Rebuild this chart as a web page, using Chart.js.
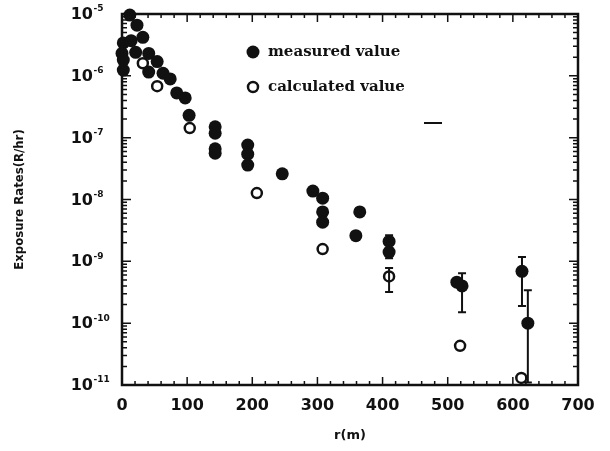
<!DOCTYPE html>
<html lang="en">
<head>
  <meta charset="UTF-8" />
  <title>Exposure rates vs distance</title>
  <script src="https://cdn.jsdelivr.net/npm/chart.js"></script>
  <style>
    html, body { margin: 0; padding: 0; background: #fff; }
    #wrap { width: 610px; height: 451px; }
  </style>
</head>
<body>
  <div id="wrap"><canvas id="rateChart" width="610" height="451"></canvas></div>

  <script>
    // distance r (m) and exposure rate (R/hr)
    const measuredR = [12, 23, 2, 14, 32, 0, 21, 41, 2, 54, 2, 41, 63, 74, 84, 97, 103,
      143, 143, 143, 143, 193, 193, 193, 246, 293, 308, 308, 308, 365, 359,
      410, 410, 514, 522, 614, 623];
    const measuredRate = [9.6e-6, 6.6e-6, 3.4e-6, 3.7e-6, 4.2e-6, 2.3e-6, 2.4e-6, 2.3e-6, 1.8e-6, 1.7e-6,
      1.24e-6, 1.15e-6, 1.1e-6, 8.9e-7, 5.3e-7, 4.4e-7, 2.3e-7,
      1.5e-7, 1.18e-7, 6.6e-8, 5.6e-8, 7.6e-8, 5.4e-8, 3.6e-8, 2.6e-8, 1.37e-8, 1.05e-8, 6.3e-9, 4.3e-9,
      6.3e-9, 2.6e-9, 2.1e-9, 1.41e-9, 4.6e-10, 4.0e-10, 6.9e-10, 1.0e-10];
    // error limits for measured points (null = no bar)
    const measuredErrHigh = [null, null, null, null, null, null, null, null, null, null, null, null, null, null, null, null, null,
      null, null, null, null, null, null, null, null, null, null, null, null, null, null,
      2.65e-9, null, null, 6.4e-10, 1.17e-9, 3.4e-10];
    const measuredErrLow = [null, null, null, null, null, null, null, null, null, null, null, null, null, null, null, null, null,
      null, null, null, null, null, null, null, null, null, null, null, null, null, null,
      null, 1.12e-9, null, 1.5e-10, 1.9e-10, 1.1e-11];

    const calculatedR = [32, 54, 104, 207, 308, 410, 519, 613];
    const calculatedRate = [1.6e-6, 6.8e-7, 1.43e-7, 1.27e-8, 1.58e-9, 5.7e-10, 4.3e-11, 1.3e-11];
    const calculatedErrHigh = [null, null, null, null, null, 7.8e-10, null, null];
    const calculatedErrLow = [null, null, null, null, null, 3.2e-10, null, null];

    const xTicks = [0, 100, 200, 300, 400, 500, 600, 700];
    const yExponents = [-5, -6, -7, -8, -9, -10, -11];

    const INK = '#111';

    function toPoints(xs, ys, hi, lo) {
      return xs.map((x, i) => ({ x: x, y: ys[i], hi: hi[i], lo: lo[i] }));
    }

    // vertical error bars with caps
    const errorBars = {
      id: 'errorBars',
      afterDatasetsDraw(chart) {
        const { ctx, scales: { x, y } } = chart;
        ctx.save();
        ctx.strokeStyle = INK;
        ctx.lineWidth = 2;
        chart.data.datasets.forEach(ds => {
          ds.data.forEach(p => {
            if (p.hi == null && p.lo == null) return;
            const px = x.getPixelForValue(p.x);
            const top = y.getPixelForValue(p.hi != null ? p.hi : p.y);
            const bot = y.getPixelForValue(p.lo != null ? p.lo : p.y);
            ctx.beginPath();
            ctx.moveTo(px, top); ctx.lineTo(px, bot);
            if (p.hi != null) { ctx.moveTo(px - 4, top); ctx.lineTo(px + 4, top); }
            if (p.lo != null) { ctx.moveTo(px - 4, bot); ctx.lineTo(px + 4, bot); }
            ctx.stroke();
          });
        });
        ctx.restore();
      }
    };

    // box frame, inward ticks and 10^n labels
    const frame = {
      id: 'frame',
      afterDraw(chart) {
        const { ctx, chartArea: a, scales: { x, y } } = chart;
        ctx.save();
        ctx.strokeStyle = INK;
        ctx.lineWidth = 2.5;
        ctx.strokeRect(a.left, a.top, a.right - a.left, a.bottom - a.top);

        ctx.lineWidth = 1.5;
        ctx.beginPath();
        for (let v = 0; v <= 700; v += 20) {
          const px = x.getPixelForValue(v);
          const len = v % 100 === 0 ? 8 : 4;
          ctx.moveTo(px, a.bottom); ctx.lineTo(px, a.bottom - len);
          ctx.moveTo(px, a.top); ctx.lineTo(px, a.top + len);
        }
        yExponents.forEach(e => {
          for (let m = 1; m <= 9; m++) {
            const v = m * Math.pow(10, e);
            if (e === -5 && m > 1) continue;
            const py = y.getPixelForValue(v);
            const len = m === 1 ? 9 : 5;
            ctx.moveTo(a.left, py); ctx.lineTo(a.left + len, py);
            ctx.moveTo(a.right, py); ctx.lineTo(a.right - len, py);
          }
        });
        ctx.stroke();

        ctx.fillStyle = INK;
        ctx.textBaseline = 'middle';
        yExponents.forEach(e => {
          const py = y.getPixelForValue(Math.pow(10, e));
          ctx.font = 'bold 16px "DejaVu Sans"';
          ctx.textAlign = 'right';
          ctx.fillText('10', 93, py + 1);
          ctx.font = 'bold 9px "DejaVu Sans"';
          ctx.textAlign = 'left';
          ctx.fillText(String(e), 93.5, py - 5);
        });
        ctx.restore();
      }
    };

    // legend in the upper right of the plot
    const innerLegend = {
      id: 'innerLegend',
      afterDraw(chart) {
        const { ctx } = chart;
        ctx.save();
        ctx.fillStyle = INK;
        ctx.strokeStyle = INK;
        ctx.font = 'bold 15px "DejaVu Serif"';
        ctx.textBaseline = 'middle';
        ctx.textAlign = 'left';
        const rows = chart.data.datasets;
        rows.forEach((ds, i) => {
          const cy = 52 + i * 35;
          ctx.beginPath();
          ctx.arc(253, cy, ds.pointRadius, 0, Math.PI * 2);
          if (ds.pointBackgroundColor === INK) ctx.fill();
          else { ctx.lineWidth = ds.pointBorderWidth; ctx.stroke(); }
          ctx.fillText(ds.label, 268, cy);
        });
        ctx.lineWidth = 2;
        ctx.beginPath();
        ctx.moveTo(424, 123); ctx.lineTo(442, 123);
        ctx.stroke();
        ctx.restore();
      }
    };

    new Chart(document.getElementById('rateChart'), {
      type: 'scatter',
      data: {
        datasets: [
          {
            label: 'measured value',
            data: toPoints(measuredR, measuredRate, measuredErrHigh, measuredErrLow),
            pointRadius: 6.5,
            pointBackgroundColor: INK,
            pointBorderColor: INK,
            pointBorderWidth: 0,
            clip: false
          },
          {
            label: 'calculated value',
            data: toPoints(calculatedR, calculatedRate, calculatedErrHigh, calculatedErrLow),
            pointRadius: 5,
            pointBackgroundColor: '#fff',
            pointBorderColor: INK,
            pointBorderWidth: 2.5,
            clip: false
          }
        ]
      },
      options: {
        responsive: false,
        animation: false,
        layout: { padding: { top: 14, right: 32, left: 0, bottom: 0 } },
        plugins: { legend: { display: false }, tooltip: { enabled: false } },
        scales: {
          x: {
            type: 'linear',
            min: 0,
            max: 700,
            afterBuildTicks: s => { s.ticks = xTicks.map(v => ({ value: v })); },
            afterFit: s => { s.height = 66; },
            grid: { display: false, drawTicks: false },
            border: { display: false },
            ticks: { color: INK, padding: 11, maxRotation: 0, font: { family: 'DejaVu Sans', weight: 'bold', size: 16 } },
            title: { display: true, text: 'r(m)', color: INK, padding: { top: 0, bottom: 8 },
              font: { family: 'DejaVu Sans', weight: 'bold', size: 13 } }
          },
          y: {
            type: 'logarithmic',
            min: 1e-11,
            max: 1e-5,
            afterFit: s => { s.width = 122; },
            grid: { display: false, drawTicks: false },
            border: { display: false },
            ticks: { display: false },
            title: { display: true, text: 'Exposure Rates(R/hr)', color: INK, padding: { top: 12, bottom: 0 },
              font: { family: 'DejaVu Sans Condensed', weight: 'bold', size: 13 } }
          }
        }
      },
      plugins: [errorBars, frame, innerLegend]
    });
  </script>
</body>
</html>
